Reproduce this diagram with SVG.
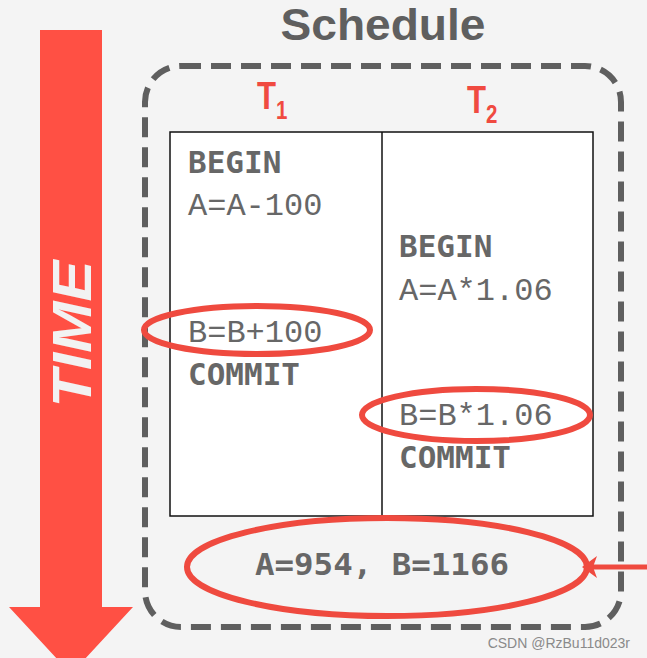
<svg xmlns="http://www.w3.org/2000/svg" width="647" height="658" viewBox="0 0 647 658">
<defs>
<style>
.code{font-family:"Liberation Mono","DejaVu Sans Mono",monospace;font-size:32px;fill:#676767}
.kw{font-family:"DejaVu Sans Mono","Liberation Mono",monospace;font-size:31px;font-weight:bold}
.tl{font-family:"Liberation Sans",sans-serif;font-weight:bold;fill:#f04a40}
.ring{fill:none;stroke:#ef4a3f;stroke-width:6}
</style>
</defs>
<rect width="647" height="658" fill="#f4f4f4"/>
<g id="time-arrow">
<polygon points="40,30 102,30 102,607 133,607 71,674 9,607 40,607" fill="#ff5044"/>
<text transform="translate(71,334) rotate(-90)" text-anchor="middle" dominant-baseline="central" font-family="Liberation Sans,sans-serif" font-weight="bold" font-style="italic" font-size="56" fill="#f2f2f2" textLength="147" lengthAdjust="spacingAndGlyphs">TIME</text>
</g>
<g id="schedule">
<text x="383" y="40" text-anchor="middle" font-family="Liberation Sans,sans-serif" font-weight="bold" font-size="44" fill="#5f5f5f" textLength="205" lengthAdjust="spacingAndGlyphs">Schedule</text>
<rect x="145" y="66" width="476" height="561" rx="36" fill="none" stroke="#5f5f5f" stroke-width="6" stroke-dasharray="20,10"/>
</g>
<g id="t1-label">
<text x="257" y="109" class="tl" font-size="38" transform="translate(257,0) scale(0.82,1) translate(-257,0)">T<tspan font-size="25" dy="10">1</tspan></text>
</g>
<g id="t2-label">
<text x="467" y="113" class="tl" font-size="38" transform="translate(467,0) scale(0.82,1) translate(-467,0)">T<tspan font-size="25" dy="10">2</tspan></text>
</g>
<g id="table">
<rect x="170" y="132" width="423" height="384" fill="#ffffff" stroke="#111" stroke-width="1.5"/>
<line x1="382" y1="132" x2="382" y2="516" stroke="#111" stroke-width="1.5"/>
</g>
<g id="t1-ops">
<text x="188" y="173" class="code kw">BEGIN</text>
<text x="188" y="215" class="code">A=A-100</text>
<text x="188" y="342" class="code">B=B+100</text>
<text x="188" y="385" class="code kw">COMMIT</text>
</g>
<g id="t2-ops">
<text x="399" y="257" class="code kw">BEGIN</text>
<text x="399" y="300" class="code">A=A*1.06</text>
<text x="399" y="425" class="code">B=B*1.06</text>
<text x="399" y="468" class="code kw">COMMIT</text>
</g>
<g id="result">
<text x="382" y="575" text-anchor="middle" class="code kw" textLength="254" lengthAdjust="spacingAndGlyphs">A=954, B=1166</text>
</g>
<g id="connectors">
<ellipse cx="257" cy="330" rx="113" ry="24" class="ring"/>
<ellipse cx="476" cy="415" rx="114" ry="26" class="ring"/>
<ellipse cx="387" cy="567" rx="200" ry="49" class="ring"/>
<line x1="647" y1="567" x2="592" y2="567" stroke="#ef4a3f" stroke-width="5"/>
<polygon points="582,567 597,556 593,567 597,578" fill="#ef4a3f"/>
</g>
<text x="630" y="648" text-anchor="end" font-family="Liberation Sans,sans-serif" font-size="14" fill="#8a8a8a">CSDN @RzBu11d023r</text>
</svg>
